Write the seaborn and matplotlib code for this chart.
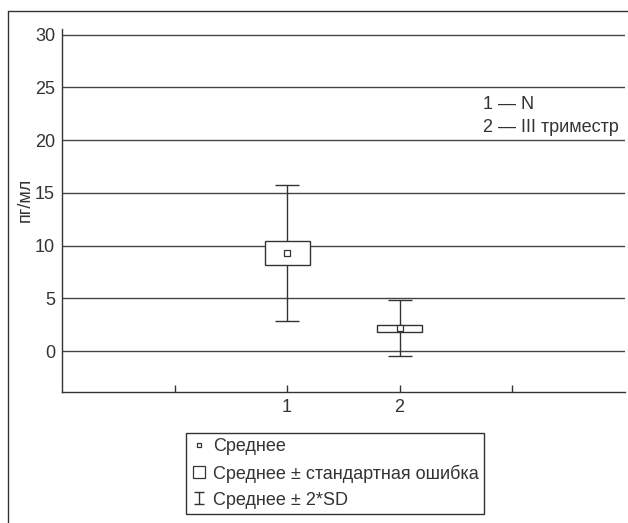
import numpy as np
import pandas as pd
import seaborn as sns
import matplotlib.pyplot as plt
from matplotlib.lines import Line2D
from matplotlib.path import Path

# group positions / labels
positions = [2, 3]
groups = ['1', '2']
means = [9.3, 2.15]
std_err = [1.1, 0.34]
two_sd = [6.42, 2.66]

xticks = [1, 2, 3, 4]
xtick_labels = ['', '1', '2', '']
yticks = [0, 5, 10, 15, 20, 25, 30]

df = pd.DataFrame({'pos': positions, 'group': groups, 'mean': means,
                   'se': std_err, 'sd2': two_sd})

sns.set_theme(style='white')
plt.rcParams['font.family'] = ['Liberation Sans', 'DejaVu Sans']

dark = '#333333'
fig = plt.figure(figsize=(6.28, 5.23), dpi=100)
ax = fig.add_axes([0.0987, 0.251, 0.896, 0.693])

ax.grid(axis='y', color='#444444', lw=1)
ax.set_axisbelow(True)

# mean +- 2*SD whiskers
ax.errorbar(df['pos'], df['mean'], yerr=df['sd2'], fmt='none', ecolor=dark,
            elinewidth=1, capsize=8.3, capthick=1, zorder=2)
# mean +- SE boxes
ax.bar(df['pos'], 2 * df['se'], bottom=df['mean'] - df['se'], width=0.4,
       color='white', edgecolor=dark, linewidth=1, zorder=3)
# means
sns.scatterplot(data=df, x='pos', y='mean', marker='s', s=16, color='white',
                edgecolor=dark, linewidth=0.9, zorder=4, ax=ax, legend=False)

ax.set_xlim(0, 5)
ax.set_ylim(-3.86, 30.5)
ax.set_xticks(xticks)
ax.set_xticklabels(xtick_labels)
ax.set_yticks(yticks)
ax.set_xlabel('')
ax.set_ylabel('пг/мл', fontsize=13, color=dark)
ax.yaxis.set_label_coords(-0.051, 0.53)
ax.tick_params(axis='x', bottom=True, direction='in', length=5, width=1,
               color=dark, labelsize=13, labelcolor=dark, pad=5)
ax.tick_params(axis='y', length=0, labelsize=13, labelcolor=dark, pad=5)
for s in ['top', 'right']:
    ax.spines[s].set_visible(False)
for s in ['left', 'bottom']:
    ax.spines[s].set_color(dark)
    ax.spines[s].set_linewidth(1)

ax.text(3.74, 23.4, '1 — N', fontsize=13, color=dark, va='center', ha='left')
ax.text(3.74, 21.2, '2 — III триместр', fontsize=13, color=dark, va='center', ha='left')

# outer frame (left and top edges visible)
fig.add_artist(Line2D([0.0127, 0.0127], [0, 0.979], color=dark, lw=1))
fig.add_artist(Line2D([0.0127, 1], [0.979, 0.979], color=dark, lw=1))

ibeam = Path([(-0.42, 0.5), (0.42, 0.5), (0, 0.5), (0, -0.5), (-0.42, -0.5), (0.42, -0.5)],
             [Path.MOVETO, Path.LINETO, Path.MOVETO, Path.LINETO,
              Path.MOVETO, Path.LINETO])
handles = [
    Line2D([], [], ls='none', marker='s', ms=3.5, mfc='white', mec=dark, mew=0.9),
    Line2D([], [], ls='none', marker='s', ms=8, mfc='white', mec=dark, mew=0.9),
    Line2D([], [], ls='none', marker=ibeam, ms=9, mfc='none', mec=dark, mew=1),
]
labels = ['Среднее', 'Среднее ± стандартная ошибка', 'Среднее ± 2*SD']
leg = fig.legend(handles, labels, loc='upper left',
                 bbox_to_anchor=(186 / 628, 1 - 433 / 523), borderaxespad=0,
                 fontsize=13, frameon=True, fancybox=False, framealpha=1,
                 edgecolor=dark, handlelength=0.8, handletextpad=0.4,
                 labelspacing=0.5, borderpad=0.3, labelcolor=dark)
leg.get_frame().set_linewidth(1)

fig.savefig('out.png', dpi=100)
